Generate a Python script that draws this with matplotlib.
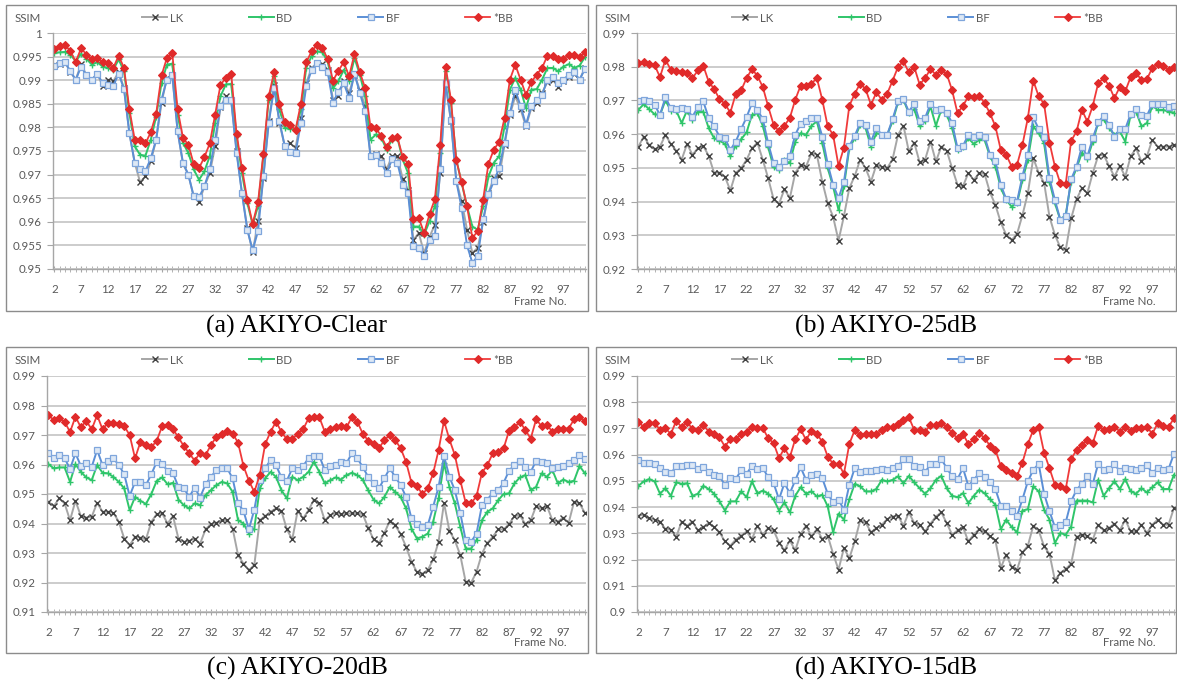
import matplotlib
matplotlib.use("Agg")
import matplotlib.pyplot as plt
import numpy as np
from matplotlib.patches import Rectangle
from matplotlib.ticker import FuncFormatter, MultipleLocator

# Frame numbers on the x axis
frames = np.arange(2, 102)

# ---- (a) AKIYO-Clear ----
lk_clear = [0.9933, 0.9935, 0.9938, 0.9917, 0.9901, 0.9935, 0.991, 0.9901, 0.9914, 0.9888,
            0.9901, 0.9898, 0.9917, 0.9883, 0.9788, 0.9725, 0.9684, 0.9696, 0.9728, 0.9774,
            0.9852, 0.9905, 0.991, 0.9792, 0.9723, 0.97, 0.9654, 0.9641, 0.9675, 0.9703,
            0.976, 0.9843, 0.9866, 0.9857, 0.9751, 0.9661, 0.9587, 0.9535, 0.9601, 0.9693,
            0.9813, 0.989, 0.9809, 0.976, 0.9767, 0.9756, 0.982, 0.9894, 0.9926, 0.9936,
            0.9935, 0.9922, 0.9859, 0.9866, 0.9898, 0.9873, 0.9912, 0.9879, 0.9845, 0.974,
            0.9744, 0.9739, 0.9711, 0.9739, 0.9739, 0.9691, 0.9668, 0.9562, 0.9576, 0.9534,
            0.9568, 0.9594, 0.9703, 0.989, 0.9813, 0.9686, 0.9644, 0.9583, 0.9534, 0.9545,
            0.9599, 0.9661, 0.9693, 0.9696, 0.9763, 0.9827, 0.9866, 0.9838, 0.9802, 0.9841,
            0.9852, 0.9873, 0.9896, 0.9901, 0.9886, 0.9898, 0.9907, 0.9914, 0.9901, 0.9926]
bd_clear = [0.9958, 0.9959, 0.996, 0.9954, 0.994, 0.9956, 0.9945, 0.9933, 0.9938, 0.9929,
            0.9926, 0.9922, 0.9944, 0.9919, 0.983, 0.976, 0.9742, 0.974, 0.9774, 0.9823,
            0.9894, 0.9933, 0.9935, 0.9827, 0.9767, 0.9746, 0.9711, 0.9689, 0.9707, 0.9739,
            0.9809, 0.9866, 0.9891, 0.9892, 0.9781, 0.9703, 0.964, 0.9594, 0.9633, 0.9739,
            0.9859, 0.9908, 0.9838, 0.9799, 0.9797, 0.9795, 0.9838, 0.9926, 0.9951, 0.9961,
            0.9959, 0.994, 0.9883, 0.9898, 0.9922, 0.9898, 0.9947, 0.9912, 0.9866, 0.9774,
            0.9785, 0.9778, 0.9753, 0.9774, 0.9778, 0.9732, 0.9703, 0.959, 0.959, 0.9573,
            0.9601, 0.9633, 0.9746, 0.9919, 0.9852, 0.9732, 0.9682, 0.9633, 0.959, 0.9583,
            0.9633, 0.9696, 0.9725, 0.9739, 0.9802, 0.988, 0.9905, 0.988, 0.9841, 0.988,
            0.9881, 0.9901, 0.9926, 0.9926, 0.9919, 0.9929, 0.9934, 0.9926, 0.9931, 0.9949]
bf_clear = [0.9931, 0.9936, 0.9938, 0.9919, 0.9901, 0.9929, 0.991, 0.9901, 0.9914, 0.9894,
            0.989, 0.9888, 0.9914, 0.9881, 0.9788, 0.9725, 0.9711, 0.9707, 0.9735, 0.9774,
            0.9859, 0.9901, 0.9912, 0.9792, 0.9725, 0.97, 0.9654, 0.9652, 0.9675, 0.9711,
            0.9774, 0.9845, 0.9859, 0.9857, 0.9746, 0.9661, 0.9583, 0.954, 0.958, 0.9696,
            0.9809, 0.9883, 0.9813, 0.976, 0.9747, 0.9746, 0.9809, 0.9887, 0.9922, 0.9936,
            0.9929, 0.9917, 0.9852, 0.9876, 0.9894, 0.9862, 0.9914, 0.9873, 0.9834, 0.9739,
            0.9742, 0.9725, 0.9703, 0.9732, 0.9725, 0.9679, 0.9661, 0.9548, 0.9545, 0.9527,
            0.9562, 0.9569, 0.9711, 0.9894, 0.9816, 0.9686, 0.9629, 0.955, 0.9513, 0.9527,
            0.9605, 0.9658, 0.9686, 0.9714, 0.9767, 0.983, 0.9879, 0.9845, 0.9806, 0.9845,
            0.9857, 0.9869, 0.9901, 0.9907, 0.9894, 0.9901, 0.9912, 0.9917, 0.9901, 0.9924]
bb_clear = [0.9967, 0.9973, 0.9975, 0.9961, 0.9939, 0.9968, 0.9954, 0.9944, 0.9947, 0.9938,
            0.9936, 0.9926, 0.9952, 0.9926, 0.9839, 0.9774, 0.9773, 0.9766, 0.979, 0.9829,
            0.991, 0.9947, 0.9958, 0.9838, 0.9778, 0.9763, 0.9723, 0.9714, 0.9737, 0.9766,
            0.9827, 0.989, 0.9905, 0.9914, 0.9787, 0.9714, 0.9647, 0.9596, 0.9641, 0.9744,
            0.9866, 0.9917, 0.985, 0.9811, 0.9806, 0.9795, 0.985, 0.9938, 0.9961, 0.9975,
            0.9968, 0.9945, 0.9899, 0.992, 0.9938, 0.9908, 0.9956, 0.9917, 0.9883, 0.98,
            0.9799, 0.9781, 0.9758, 0.9778, 0.978, 0.9737, 0.9723, 0.9605, 0.9608, 0.9576,
            0.9616, 0.9648, 0.9762, 0.9929, 0.9859, 0.973, 0.9684, 0.9633, 0.9566, 0.958,
            0.9647, 0.9723, 0.9753, 0.9769, 0.982, 0.9901, 0.9933, 0.9901, 0.9869, 0.9896,
            0.9912, 0.9926, 0.9952, 0.9951, 0.9945, 0.9945, 0.9954, 0.9954, 0.9949, 0.9959]

# ---- (b) AKIYO-25dB ----
lk_25 = [0.9563, 0.9593, 0.9568, 0.9555, 0.9563, 0.9598, 0.9571, 0.9551, 0.9524, 0.9571,
         0.9539, 0.9558, 0.9565, 0.9536, 0.9485, 0.9486, 0.9474, 0.9433, 0.9485, 0.9499,
         0.9524, 0.9558, 0.9575, 0.9524, 0.9469, 0.9407, 0.9393, 0.9437, 0.941, 0.9485,
         0.9509, 0.9504, 0.9544, 0.9539, 0.9459, 0.9395, 0.9355, 0.9284, 0.9357, 0.944,
         0.9476, 0.9524, 0.9499, 0.9459, 0.9509, 0.9502, 0.9499, 0.9526, 0.9598, 0.9625,
         0.9549, 0.9575, 0.9516, 0.9524, 0.9578, 0.9519, 0.9563, 0.9551, 0.9499, 0.945,
         0.9445, 0.9485, 0.9464, 0.9485, 0.9482, 0.9427, 0.939, 0.9338, 0.9301, 0.9286,
         0.9304, 0.936, 0.9425, 0.9529, 0.9485, 0.9456, 0.9355, 0.9301, 0.9264, 0.9256,
         0.935, 0.9407, 0.944, 0.9425, 0.9485, 0.9536, 0.9539, 0.9506, 0.9474, 0.9506,
         0.9474, 0.9534, 0.9558, 0.9519, 0.9534, 0.9583, 0.9563, 0.9563, 0.9563, 0.9568]
bd_25 = [0.9672, 0.9689, 0.9674, 0.9659, 0.9657, 0.97, 0.967, 0.967, 0.9633, 0.967,
         0.9641, 0.9667, 0.9667, 0.9618, 0.9588, 0.9581, 0.9571, 0.9534, 0.9565, 0.9585,
         0.9605, 0.9657, 0.9662, 0.9625, 0.9561, 0.9502, 0.9494, 0.9524, 0.9514, 0.9578,
         0.9603, 0.9598, 0.9625, 0.9638, 0.9573, 0.9499, 0.9445, 0.9375, 0.9445, 0.9558,
         0.9588, 0.9628, 0.9618, 0.9563, 0.9603, 0.9598, 0.9598, 0.9638, 0.9694, 0.9702,
         0.9662, 0.9674, 0.9623, 0.9638, 0.9682, 0.9625, 0.9672, 0.9657, 0.9618, 0.9553,
         0.9563, 0.9588, 0.9571, 0.9583, 0.9583, 0.9534, 0.9504, 0.944, 0.9405, 0.9385,
         0.9395, 0.9464, 0.9524, 0.9623, 0.9603, 0.9573, 0.9459, 0.9395, 0.9346, 0.9361,
         0.9459, 0.9499, 0.9545, 0.9527, 0.9578, 0.9633, 0.9644, 0.9618, 0.9598, 0.9608,
         0.9578, 0.9657, 0.9667, 0.9623, 0.9633, 0.9684, 0.9672, 0.9672, 0.9667, 0.9664]
bf_25 = [0.9697, 0.9702, 0.9697, 0.9687, 0.9657, 0.9709, 0.9677, 0.9674, 0.9677, 0.9674,
         0.9652, 0.968, 0.9697, 0.9648, 0.9623, 0.9593, 0.9588, 0.9553, 0.9578, 0.9615,
         0.965, 0.9692, 0.9672, 0.9645, 0.9573, 0.9514, 0.9504, 0.9519, 0.9536, 0.9598,
         0.9631, 0.9638, 0.9648, 0.9648, 0.9593, 0.9512, 0.945, 0.941, 0.9459, 0.9565,
         0.9595, 0.9633, 0.9628, 0.9578, 0.9618, 0.9598, 0.9598, 0.9645, 0.9697, 0.9704,
         0.9667, 0.969, 0.9638, 0.9648, 0.969, 0.9672, 0.9674, 0.9664, 0.9633, 0.9558,
         0.9565, 0.9598, 0.9593, 0.9598, 0.9593, 0.9539, 0.9519, 0.945, 0.9407, 0.9405,
         0.94, 0.9476, 0.9539, 0.965, 0.9615, 0.9591, 0.9469, 0.9405, 0.9346, 0.9356,
         0.9466, 0.9504, 0.9563, 0.9534, 0.9588, 0.9635, 0.9654, 0.9628, 0.9593, 0.9615,
         0.9615, 0.966, 0.9674, 0.9657, 0.9654, 0.969, 0.969, 0.969, 0.968, 0.9684]
bb_25 = [0.9811, 0.9813, 0.9809, 0.9805, 0.9769, 0.9821, 0.9791, 0.9786, 0.9783, 0.9781,
         0.9766, 0.9789, 0.9803, 0.9756, 0.9734, 0.9704, 0.969, 0.9664, 0.9719, 0.973,
         0.9766, 0.9793, 0.9773, 0.974, 0.9682, 0.9628, 0.9608, 0.9625, 0.9648, 0.9702,
         0.9744, 0.9744, 0.975, 0.9766, 0.9702, 0.9623, 0.9598, 0.9506, 0.956, 0.9684,
         0.972, 0.975, 0.9734, 0.9687, 0.9724, 0.9702, 0.972, 0.9759, 0.9799, 0.9816,
         0.9783, 0.9799, 0.9747, 0.9766, 0.9793, 0.9776, 0.9789, 0.9779, 0.973, 0.9662,
         0.9684, 0.9712, 0.971, 0.9714, 0.9692, 0.9662, 0.9623, 0.9553, 0.9539, 0.9504,
         0.9509, 0.9568, 0.9648, 0.9759, 0.9712, 0.969, 0.9575, 0.9504, 0.9454, 0.9452,
         0.958, 0.9608, 0.9672, 0.9637, 0.9684, 0.9751, 0.9766, 0.9744, 0.9707, 0.974,
         0.9727, 0.9769, 0.9781, 0.9761, 0.9763, 0.9796, 0.9809, 0.9801, 0.9791, 0.9798]

# ---- (c) AKIYO-20dB ----
lk_20 = [0.9474, 0.9459, 0.9485, 0.9468, 0.9411, 0.9477, 0.9425, 0.942, 0.9423, 0.947,
         0.944, 0.944, 0.9436, 0.9406, 0.9349, 0.9326, 0.9355, 0.9352, 0.9346, 0.9406,
         0.9432, 0.9434, 0.94, 0.9425, 0.9349, 0.9338, 0.9341, 0.9349, 0.9332, 0.938,
         0.9398, 0.9402, 0.9411, 0.9411, 0.9383, 0.9293, 0.9264, 0.9242, 0.9259, 0.9411,
         0.9425, 0.944, 0.9451, 0.9443, 0.938, 0.9346, 0.9443, 0.9417, 0.9445, 0.9481,
         0.9468, 0.9411, 0.9428, 0.9436, 0.9432, 0.9434, 0.9434, 0.9434, 0.9432, 0.9386,
         0.9346, 0.9334, 0.9368, 0.9409, 0.9394, 0.9364, 0.9321, 0.927, 0.9236, 0.923,
         0.9242, 0.9278, 0.9338, 0.947, 0.9375, 0.9343, 0.9293, 0.9202, 0.9199, 0.9236,
         0.9298, 0.9334, 0.9355, 0.938, 0.938, 0.9398, 0.9425, 0.9428, 0.9398, 0.9411,
         0.9459, 0.9451, 0.9459, 0.9411, 0.9406, 0.942, 0.9402, 0.9474, 0.9468, 0.9436]
bd_20 = [0.9601, 0.9587, 0.959, 0.959, 0.9541, 0.9601, 0.9575, 0.9556, 0.9547, 0.9598,
         0.9572, 0.957, 0.9558, 0.9541, 0.9519, 0.9445, 0.949, 0.9477, 0.9466, 0.95,
         0.9545, 0.9556, 0.9533, 0.9538, 0.9481, 0.9462, 0.9451, 0.9468, 0.9462, 0.9496,
         0.9513, 0.953, 0.9541, 0.9536, 0.9507, 0.9411, 0.94, 0.9366, 0.9383, 0.9519,
         0.9553, 0.9575, 0.9558, 0.9513, 0.9485, 0.9558, 0.9547, 0.9558, 0.9575, 0.9609,
         0.9575, 0.9536, 0.9547, 0.9556, 0.9549, 0.9564, 0.9572, 0.9564, 0.9549, 0.9513,
         0.9481, 0.9468, 0.949, 0.9524, 0.9507, 0.949, 0.9451, 0.9383, 0.9349, 0.9355,
         0.9366, 0.9406, 0.9485, 0.9604, 0.9524, 0.9468, 0.9389, 0.9315, 0.9315, 0.9343,
         0.9411, 0.944, 0.9451, 0.9479, 0.95, 0.9502, 0.9536, 0.9556, 0.9564, 0.9513,
         0.9524, 0.957, 0.9558, 0.9581, 0.9536, 0.9549, 0.9541, 0.9545, 0.9595, 0.957]
bf_20 = [0.9638, 0.9621, 0.9632, 0.9621, 0.9585, 0.9638, 0.9595, 0.9606, 0.9592, 0.9649,
         0.9598, 0.9613, 0.9621, 0.9598, 0.9567, 0.9493, 0.9541, 0.9541, 0.953, 0.9567,
         0.9609, 0.9601, 0.9579, 0.957, 0.9524, 0.9519, 0.949, 0.9522, 0.9488, 0.9533,
         0.9558, 0.9581, 0.9587, 0.9587, 0.9553, 0.9468, 0.9443, 0.938, 0.9447, 0.9547,
         0.9587, 0.9615, 0.9598, 0.9556, 0.9545, 0.9587, 0.9581, 0.9595, 0.9621, 0.9629,
         0.9629, 0.9581, 0.9595, 0.9598, 0.9609, 0.9604, 0.9638, 0.9621, 0.9592, 0.9558,
         0.9536, 0.9519, 0.9553, 0.9587, 0.9558, 0.953, 0.949, 0.9417, 0.94, 0.9387,
         0.9394, 0.9457, 0.9524, 0.9629, 0.9558, 0.9513, 0.9436, 0.9343, 0.9338, 0.9366,
         0.9462, 0.9481, 0.9504, 0.9513, 0.9538, 0.9579, 0.9598, 0.9613, 0.9592, 0.9575,
         0.9613, 0.9609, 0.9606, 0.9587, 0.9592, 0.9595, 0.9604, 0.9615, 0.9632, 0.9617]
bb_20 = [0.9767, 0.9751, 0.9756, 0.9745, 0.971, 0.9762, 0.9726, 0.9748, 0.9719, 0.9767,
         0.9719, 0.9742, 0.9739, 0.9737, 0.973, 0.97, 0.9621, 0.9677, 0.9666, 0.9658,
         0.9681, 0.973, 0.9734, 0.9719, 0.9692, 0.9662, 0.9638, 0.9613, 0.964, 0.9632,
         0.9666, 0.9694, 0.9705, 0.9714, 0.9705, 0.9674, 0.9595, 0.9545, 0.9507, 0.9564,
         0.9669, 0.9711, 0.9745, 0.9711, 0.9685, 0.9685, 0.9705, 0.9719, 0.9756, 0.9762,
         0.976, 0.9711, 0.9719, 0.9726, 0.973, 0.9726, 0.976, 0.9745, 0.9705, 0.9681,
         0.9671, 0.9655, 0.9683, 0.97, 0.9683, 0.9655, 0.9609, 0.9538, 0.9527, 0.95,
         0.9519, 0.957, 0.9649, 0.9748, 0.9685, 0.9632, 0.9547, 0.947, 0.9468, 0.9493,
         0.9572, 0.9598, 0.9638, 0.9643, 0.9655, 0.9714, 0.9726, 0.9745, 0.9717, 0.9688,
         0.9753, 0.973, 0.9734, 0.9711, 0.9722, 0.9722, 0.9722, 0.9753, 0.976, 0.9748]

# ---- (d) AKIYO-15dB ----
lk_15 = [0.9367, 0.9371, 0.9358, 0.9352, 0.9345, 0.9316, 0.9314, 0.9286, 0.9345, 0.9329,
         0.9345, 0.9311, 0.9324, 0.9339, 0.9324, 0.9304, 0.9269, 0.9253, 0.9276, 0.9291,
         0.9307, 0.9278, 0.9329, 0.9295, 0.932, 0.9311, 0.9265, 0.9235, 0.9273, 0.9235,
         0.9298, 0.9329, 0.9288, 0.9316, 0.9278, 0.9291, 0.9222, 0.9161, 0.9244, 0.9205,
         0.9269, 0.9349, 0.9342, 0.9304, 0.932, 0.9333, 0.9354, 0.9364, 0.9367, 0.9329,
         0.938, 0.9339, 0.9333, 0.9307, 0.9337, 0.9364, 0.938, 0.9339, 0.9295, 0.9311,
         0.9324, 0.9269, 0.9295, 0.9316, 0.9307, 0.9288, 0.9273, 0.9168, 0.9219, 0.9172,
         0.9161, 0.9227, 0.9253, 0.9329, 0.9311, 0.925, 0.9222, 0.9121, 0.9149, 0.9164,
         0.9184, 0.9286, 0.9295, 0.9288, 0.9276, 0.9333, 0.9311, 0.932, 0.9337, 0.9311,
         0.9352, 0.9307, 0.9307, 0.9333, 0.9301, 0.9333, 0.9352, 0.9333, 0.9333, 0.9396]
bd_15 = [0.9481, 0.9498, 0.9507, 0.9498, 0.9451, 0.9472, 0.9443, 0.9494, 0.9489, 0.9491,
         0.9443, 0.9451, 0.9481, 0.9469, 0.9451, 0.9422, 0.9387, 0.9422, 0.9422, 0.946,
         0.9438, 0.9498, 0.9453, 0.9463, 0.9451, 0.943, 0.9387, 0.9418, 0.938, 0.9443,
         0.9476, 0.9451, 0.946, 0.9441, 0.9447, 0.9403, 0.9304, 0.9375, 0.9352, 0.943,
         0.9489, 0.9479, 0.946, 0.946, 0.9469, 0.9504, 0.9498, 0.9504, 0.9517, 0.9491,
         0.9519, 0.9494, 0.9472, 0.9451, 0.9472, 0.9504, 0.9519, 0.9472, 0.9443, 0.9438,
         0.9453, 0.9415, 0.9443, 0.9466, 0.9453, 0.943, 0.9409, 0.9316, 0.9352, 0.9324,
         0.9304, 0.9387, 0.9392, 0.9479, 0.946, 0.939, 0.9352, 0.9263, 0.9301, 0.9295,
         0.9326, 0.9425, 0.9425, 0.9425, 0.9418, 0.9504, 0.9443, 0.9472, 0.9498, 0.9469,
         0.9507, 0.946, 0.9451, 0.9472, 0.9456, 0.9476, 0.9494, 0.9469, 0.9469, 0.9523]
bf_15 = [0.958, 0.9568, 0.957, 0.9565, 0.9549, 0.9532, 0.9529, 0.9555, 0.9557, 0.9561,
         0.9561, 0.9545, 0.9552, 0.9532, 0.9523, 0.9517, 0.9485, 0.951, 0.9507, 0.954,
         0.9527, 0.9557, 0.9545, 0.9549, 0.9514, 0.9491, 0.943, 0.9491, 0.9453, 0.9502,
         0.9552, 0.9504, 0.9523, 0.9527, 0.951, 0.9451, 0.9418, 0.9428, 0.939, 0.9485,
         0.9549, 0.9532, 0.9536, 0.9536, 0.954, 0.9545, 0.9542, 0.9549, 0.9557, 0.9583,
         0.9583, 0.9557, 0.9552, 0.9532, 0.9565, 0.9565, 0.9583, 0.9549, 0.9517, 0.9507,
         0.9549, 0.9481, 0.9504, 0.9529, 0.9514, 0.9494, 0.9469, 0.9405, 0.9403, 0.9387,
         0.9367, 0.943, 0.9498, 0.9542, 0.9565, 0.9451, 0.9384, 0.9324, 0.9333, 0.9342,
         0.9422, 0.9466, 0.9489, 0.9517, 0.9489, 0.9565, 0.9542, 0.9545, 0.9565, 0.9536,
         0.9549, 0.9545, 0.9542, 0.9549, 0.9561, 0.9529, 0.9549, 0.954, 0.9545, 0.9603]
bb_15 = [0.9726, 0.9705, 0.9722, 0.9722, 0.9694, 0.9701, 0.9679, 0.9729, 0.9705, 0.9726,
         0.9697, 0.9694, 0.9713, 0.9688, 0.9678, 0.9666, 0.9631, 0.9659, 0.9659, 0.9679,
         0.9688, 0.9707, 0.9701, 0.9701, 0.9663, 0.9644, 0.9587, 0.9625, 0.959, 0.9659,
         0.9697, 0.9656, 0.9692, 0.9678, 0.965, 0.9593, 0.9565, 0.9565, 0.9527, 0.9641,
         0.9694, 0.9675, 0.9679, 0.9679, 0.9679, 0.9694, 0.9705, 0.9705, 0.9717, 0.9732,
         0.9743, 0.9694, 0.9694, 0.9688, 0.9713, 0.9713, 0.9722, 0.9707, 0.9682, 0.9663,
         0.9679, 0.9641, 0.9659, 0.9682, 0.9663, 0.9634, 0.9618, 0.9557, 0.9542, 0.9529,
         0.9519, 0.957, 0.9641, 0.9694, 0.9705, 0.9608, 0.9548, 0.9485, 0.9481, 0.9469,
         0.9583, 0.9618, 0.9637, 0.9656, 0.9644, 0.971, 0.9694, 0.9697, 0.9707, 0.9688,
         0.9705, 0.9692, 0.9701, 0.9701, 0.9707, 0.9679, 0.972, 0.971, 0.9705, 0.9739]

captions = ["(a) AKIYO-Clear", "(b) AKIYO-25dB", "(c) AKIYO-20dB", "(d) AKIYO-15dB"]
y_ranges = [(0.95, 1.0, 0.005), (0.92, 0.99, 0.01), (0.91, 0.99, 0.01), (0.90, 0.99, 0.01)]
panels = [(lk_clear, bd_clear, bf_clear, bb_clear),
          (lk_25, bd_25, bf_25, bb_25),
          (lk_20, bd_20, bf_20, bb_20),
          (lk_15, bd_15, bf_15, bb_15)]

W, H = 1177, 685
fig = plt.figure(figsize=(W / 100, H / 100), dpi=100)

def fx(px):
    return px / W

def fy(py):
    return 1 - py / H

# pixel layout of each panel: box (x0, y0, x1, y1), axes (left, top, right, bottom)
boxes = [(6, 5, 588, 311), (596, 5, 1176, 311), (6, 347, 588, 653), (596, 347, 1176, 653)]
axes_px = [(53, 33, 586, 269), (637, 33, 1175, 269), (47, 376, 586, 612), (637, 376, 1175, 612)]

lab_font = "Lato"
txt_col = "#595959"

styles = [
    dict(label="LK", color="#a6a6a6", marker="x", ms=5, mec="#404040", mew=1.0, lw=1.4),
    dict(label="BD", color="#2fc56a", marker="+", ms=5, mec="#2fc56a", mew=1.0, lw=1.4),
    dict(label="BF", color="#5b8fd6", marker="s", ms=4.5, mec="#7fa6dc", mfc="#dde8f5", mew=0.9, lw=1.4),
    dict(label="*BB", color="#f03a3a", marker="D", ms=4.0, mec="#e02a2a", mfc="#e02a2a", mew=0.8, lw=1.3),
]

for i in range(4):
    bx0, by0, bx1, by1 = boxes[i]
    fig.patches.append(Rectangle((fx(bx0), fy(by1)), fx(bx1 - bx0), (by1 - by0) / H,
                                 transform=fig.transFigure, fill=False,
                                 edgecolor="#8c8c8c", linewidth=1.0, zorder=0))
    l, t, r, b = axes_px[i]
    ax = fig.add_axes([fx(l), fy(b), fx(r - l), (b - t) / H])
    ymin, ymax, step = y_ranges[i]

    handles = []
    for data, st in zip(panels[i], styles):
        h, = ax.plot(frames, data, **st)
        handles.append(h)

    ax.set_xlim(1.75, 101.2)
    ax.set_ylim(ymin, ymax)
    ax.yaxis.set_major_locator(MultipleLocator(step))
    ax.yaxis.set_major_formatter(FuncFormatter(lambda v, p: f"{round(v, 4):g}"))
    ax.set_xticks(np.arange(2, 98, 5))
    ax.set_xticks(frames, minor=True)
    ax.grid(axis="y", color="#c8c8c8", linewidth=1.3)
    ax.set_axisbelow(True)
    for s in ["top", "right"]:
        ax.spines[s].set_visible(False)
    for s in ["left", "bottom"]:
        ax.spines[s].set_color("#a6a6a6")
        ax.spines[s].set_linewidth(1.0)
    ax.tick_params(axis="x", which="both", direction="inout", length=5, color="#a6a6a6",
                   labelsize=8.3, labelcolor=txt_col, pad=8)
    ax.tick_params(axis="y", direction="out", length=4, color="#a6a6a6",
                   labelsize=8.3, labelcolor=txt_col, pad=4)
    for lab in ax.get_xticklabels() + ax.get_yticklabels():
        lab.set_family(lab_font)

    # legend along the top of the box
    ax.legend(handles, [st["label"] for st in styles], ncol=4, frameon=False,
              loc="center left", bbox_to_anchor=(fx(bx0 + 136), fy(by0 + 13)),
              bbox_transform=fig.transFigure, handlelength=2.2, handletextpad=0.2,
              columnspacing=5.7, borderpad=0, borderaxespad=0,
              prop={"family": lab_font, "size": 8.3}, labelcolor=txt_col)

    fig.text(fx(bx0 + 9), fy(by0 + 13), "SSIM", family=lab_font, fontsize=8.3,
             color=txt_col, ha="left", va="center")
    fig.text(fx(r - 19), fy(by1 - 10), "Frame No.", family=lab_font, fontsize=8.3,
             color=txt_col, ha="right", va="center")
    fig.text(fx((bx0 + bx1) / 2), fy(by1 + 15), captions[i], family="Liberation Serif",
             fontsize=18.5, color="black", ha="center", va="center")

plt.savefig("out.png", dpi=100)
